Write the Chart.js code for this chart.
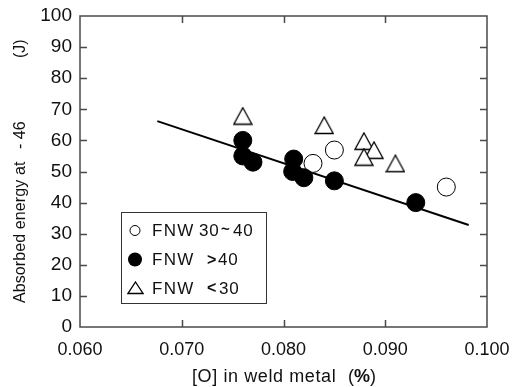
<!DOCTYPE html>
<html>
<head>
<meta charset="utf-8">
<script src="https://cdn.jsdelivr.net/npm/chart.js@4.4.1/dist/chart.umd.min.js"></script>
<style>
  html, body { margin: 0; padding: 0; background: #fff; }
  #wrap { width: 513px; height: 387px; }
</style>
</head>
<body>
<div id="wrap"><canvas id="myChart" width="513" height="387"></canvas></div>
<script>
// data
const xTicks = [0.060, 0.070, 0.080, 0.090, 0.100];
const yTicks = [0, 10, 20, 30, 40, 50, 60, 70, 80, 90, 100];

// FNW 30~40 (open circles)
const openX = [0.0829, 0.0850, 0.0960];
const openY = [52.6, 56.9, 45];

// FNW >40 (filled circles)
const filledX = [0.0760, 0.0760, 0.0770, 0.0810, 0.0809, 0.0820, 0.0850, 0.0930];
const filledY = [60, 55, 53, 54, 50, 48, 47, 40];

// FNW <30 (triangles)
const triX = [0.0760, 0.0840, 0.0879, 0.0889, 0.0879, 0.0910];
const triY = [67.8, 64.8, 59.7, 56.8, 54.6, 52.5];

// regression line
const fitX = [0.0676, 0.0982];
const fitY = [66.2, 32.8];

const legendLabels = ["FNW 30 ~ 40", "FNW  > 40", "FNW  < 30"];

const font = "'Liberation Sans', Arial, sans-serif";
const axisColor = "#4a4a4a";

const toPoints = (xs, ys) => xs.map((x, i) => ({ x: x, y: ys[i] }));

// open triangle marker, a bit taller than equilateral like the original
const makeTriangle = (w, h) => {
  const c = document.createElement("canvas");
  c.width = w + 2;
  c.height = h + 2;
  const g = c.getContext("2d");
  g.fillStyle = "#fff";
  g.strokeStyle = "#000";
  g.lineWidth = 1.3;
  g.lineJoin = "miter";
  g.beginPath();
  g.moveTo(c.width / 2, 1);
  g.lineTo(c.width - 1, c.height - 1.5);
  g.lineTo(1, c.height - 1.5);
  g.closePath();
  g.fill();
  g.stroke();
  return c;
};
const triMarker = makeTriangle(18, 17);
const triLegend = makeTriangle(15, 12);

const drawText = (ctx, txt, x, y, size, spacing, bold) => {
  ctx.font = (bold ? "bold " : "") + size + "px " + font;
  ctx.letterSpacing = spacing + "px";
  ctx.fillText(txt, x, y);
  const w = ctx.measureText(txt).width;
  ctx.letterSpacing = "0px";
  return x + w;
};

// frame, inward ticks, titles and the boxed legend
const decorations = {
  id: "decorations",
  afterDraw(chart) {
    const { ctx, chartArea: a, scales } = chart;
    const x = scales.x, y = scales.y;
    ctx.save();
    ctx.strokeStyle = axisColor;
    ctx.lineWidth = 1.5;
    ctx.strokeRect(a.left, a.top, a.right - a.left, a.bottom - a.top);

    ctx.beginPath();
    yTicks.slice(1, -1).forEach((v) => {
      const py = Math.round(y.getPixelForValue(v)) + 0.5;
      ctx.moveTo(a.left, py); ctx.lineTo(a.left + 7, py);
      ctx.moveTo(a.right, py); ctx.lineTo(a.right - 7, py);
    });
    xTicks.slice(1, -1).forEach((v) => {
      const px = Math.round(x.getPixelForValue(v)) + 0.5;
      ctx.moveTo(px, a.bottom); ctx.lineTo(px, a.bottom - 7);
      ctx.moveTo(px, a.top); ctx.lineTo(px, a.top + 7);
    });
    ctx.stroke();

    // x title
    ctx.fillStyle = "#111";
    ctx.textBaseline = "middle";
    ctx.textAlign = "left";
    drawText(ctx, "[O] in weld metal", 192, 377, 18, 0.6, false);
    let ox = drawText(ctx, "(", 348, 377, 18, 0, false);
    ox = drawText(ctx, "%", ox, 377, 18, 0, true);
    drawText(ctx, ")", ox, 377, 18, 0, false);

    // y title
    ctx.save();
    ctx.translate(25, 303);
    ctx.rotate(-Math.PI / 2);
    ctx.textBaseline = "alphabetic";
    drawText(ctx, "Absorbed energy at", 0, 0, 16, 0.1, false);
    drawText(ctx, "- 46", 154, 0, 16, 0, false);
    drawText(ctx, "(J)", 245, 0, 16, 0, false);
    ctx.restore();

    // legend box
    ctx.lineWidth = 1;
    ctx.strokeStyle = "#333";
    ctx.strokeRect(121.5, 212.5, 145, 91);
    const rows = [230.5, 259.5, 288];

    ctx.fillStyle = "#fff";
    ctx.strokeStyle = "#000";
    ctx.beginPath();
    ctx.arc(135, rows[0], 5, 0, Math.PI * 2);
    ctx.fill();
    ctx.stroke();
    ctx.fillStyle = "#000";
    ctx.beginPath();
    ctx.arc(135, rows[1], 7, 0, Math.PI * 2);
    ctx.fill();
    ctx.drawImage(triLegend, Math.round(135 - triLegend.width / 2), Math.round(rows[2] - triLegend.height / 2));

    ctx.fillStyle = "#111";
    ctx.textBaseline = "middle";
    rows.forEach((ry) => drawText(ctx, "FNW", 152, ry + 1, 17, 1.3, false));
    drawText(ctx, "30", 199, rows[0] + 1, 17, 0.8, false);
    drawText(ctx, "~", 221, rows[0] - 1, 15, 0, true);
    drawText(ctx, "40", 233, rows[0] + 1, 17, 0.8, false);
    drawText(ctx, ">", 207, rows[1] + 1, 16, 0, true);
    drawText(ctx, "40", 218, rows[1] + 1, 17, 0.8, false);
    drawText(ctx, "<", 207, rows[2] + 1, 16, 0, true);
    drawText(ctx, "30", 219, rows[2] + 1, 17, 0.8, false);
    ctx.restore();
  }
};

new Chart(document.getElementById("myChart"), {
  type: "scatter",
  data: {
    datasets: [
      {
        label: legendLabels[0],
        data: toPoints(openX, openY),
        pointStyle: "circle",
        radius: 9,
        backgroundColor: "#fff",
        borderColor: "#000",
        borderWidth: 1,
        order: 1
      },
      {
        label: legendLabels[1],
        data: toPoints(filledX, filledY),
        pointStyle: "circle",
        radius: 9,
        backgroundColor: "#000",
        borderColor: "#000",
        borderWidth: 1,
        order: 0
      },
      {
        label: legendLabels[2],
        data: toPoints(triX, triY),
        pointStyle: triMarker,
        radius: 9,
        order: 1
      },
      {
        type: "line",
        label: "fit",
        data: toPoints(fitX, fitY),
        borderColor: "#000",
        borderWidth: 2,
        pointRadius: 0,
        showLine: true,
        fill: false,
        order: 2
      }
    ]
  },
  options: {
    responsive: false,
    animation: false,
    layout: { padding: { top: 16, right: 26, left: 0, bottom: 0 } },
    plugins: { legend: { display: false }, tooltip: { enabled: false } },
    scales: {
      x: {
        type: "linear",
        min: 0.06,
        max: 0.1,
        afterBuildTicks: (s) => { s.ticks = xTicks.map((v) => ({ value: v })); },
        afterFit: (s) => { s.height = 60; s.paddingLeft = 0; s.paddingRight = 0; },
        grid: { display: false, drawTicks: false },
        border: { display: false },
        ticks: {
          padding: 12,
          color: "#111",
          font: { family: font, size: 18 },
          maxRotation: 0,
          callback: (v) => v.toFixed(3)
        }
      },
      y: {
        min: 0,
        max: 100,
        afterBuildTicks: (s) => { s.ticks = yTicks.map((v) => ({ value: v })); },
        afterFit: (s) => { s.width = 80; s.paddingTop = 0; s.paddingBottom = 0; },
        grid: { display: false, drawTicks: false },
        border: { display: false },
        ticks: {
          padding: 8,
          color: "#111",
          font: { family: font, size: 19 },
          callback: (v) => String(v)
        }
      }
    }
  },
  plugins: [decorations]
});
</script>
</body>
</html>
